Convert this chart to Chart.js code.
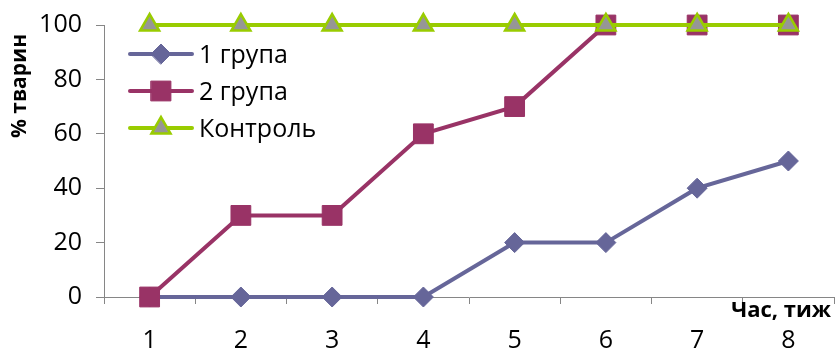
<!DOCTYPE html>
<html><head><meta charset="utf-8">
<script src="https://cdn.jsdelivr.net/npm/chart.js@4/dist/chart.umd.min.js"></script>
<style>html,body{margin:0;padding:0;background:#fff;} canvas{display:block;}</style>
</head><body>
<canvas id="c" width="835" height="354"></canvas>
<script>
const categories = ['1','2','3','4','5','6','7','8'];
const group1 = [0,0,0,0,20,20,40,50];
const group2 = [0,30,30,60,70,100,100,100];
const control = [100,100,100,100,100,100,100,100];
const seriesNames = ['1 група','2 група','Контроль'];
const yTicks = [0,20,40,60,80,100];
const xTitle = 'Час, тиж';
const yTitle = '% тварин';

const FONT = '"Open Sans"';
const AXIS = '#868686';

const legendPlugin = {
  id: 'inLegend',
  afterDatasetsDraw(chart) {
    const ctx = chart.ctx;
    const x0 = 130, x1 = 192, tx = 199;
    const ys = [54, 91, 128];
    chart.data.datasets.forEach((ds, i) => {
      const y = ys[i];
      ctx.save();
      ctx.strokeStyle = ds.borderColor;
      ctx.lineWidth = ds.borderWidth;
      ctx.lineCap = 'round';
      ctx.beginPath(); ctx.moveTo(x0, y); ctx.lineTo(x1, y); ctx.stroke();
      ctx.fillStyle = ds.pointBackgroundColor;
      ctx.strokeStyle = ds.pointBorderColor;
      ctx.lineWidth = ds.pointBorderWidth;
      Chart.helpers.drawPoint(ctx, {pointStyle: ds.pointStyle, radius: ds.pointRadius, borderWidth: ds.pointBorderWidth, rotation: 0}, (x0 + x1) / 2, y);
      ctx.fillStyle = '#000';
      ctx.font = '25px ' + FONT;
      ctx.textBaseline = 'middle';
      ctx.textAlign = 'left';
      ctx.fillText(ds.label, tx, y + 2);
      ctx.restore();
    });
    // axis titles
    ctx.save();
    ctx.fillStyle = '#000';
    ctx.font = 'bold 22px ' + FONT;
    ctx.textAlign = 'right';
    ctx.textBaseline = 'middle';
    ctx.fillText(xTitle, 831, 311);
    ctx.font = 'bold 21px ' + FONT;
    ctx.translate(20, 86);
    ctx.rotate(-Math.PI / 2);
    ctx.textAlign = 'center';
    ctx.fillText(yTitle, 0, 0);
    ctx.restore();
  }
};

new Chart(document.getElementById('c'), {
  type: 'line',
  data: {
    labels: categories,
    datasets: [
      {label: seriesNames[0], data: group1, borderColor: '#666699', backgroundColor: '#666699',
       pointBackgroundColor: '#666699', pointBorderColor: '#666699', pointBorderWidth: 1,
       borderWidth: 4, pointStyle: 'rectRot', pointRadius: 10, order: 3, clip: false},
      {label: seriesNames[1], data: group2, borderColor: '#993366', backgroundColor: '#993366',
       pointBackgroundColor: '#993366', pointBorderColor: '#993366', pointBorderWidth: 1,
       borderWidth: 4, pointStyle: 'rect', pointRadius: 14, order: 2, clip: false},
      {label: seriesNames[2], data: control, borderColor: '#99CC00', backgroundColor: '#969696',
       pointBackgroundColor: '#969696', pointBorderColor: '#99CC00', pointBorderWidth: 2.5,
       borderWidth: 4, pointStyle: 'triangle', pointRadius: 11, order: 1, clip: false}
    ]
  },
  options: {
    responsive: false,
    animation: false,
    layout: {autoPadding: false, padding: {top: 25, right: 1, bottom: 0, left: 0}},
    plugins: {legend: {display: false}, tooltip: {enabled: false}},
    elements: {line: {tension: 0}, point: {hoverRadius: 10}},
    scales: {
      x: {
        offset: true,
        grid: {offset: true, drawOnChartArea: false, drawTicks: true, tickLength: 7, color: AXIS},
        border: {color: AXIS, width: 1},
        ticks: {color: '#000', font: {family: 'Open Sans', size: 25}, padding: 22, maxRotation: 0},
        afterFit(s) { s.height = 57; s.paddingLeft = 0; s.paddingRight = 0; }
      },
      y: {
        min: 0, max: 100,
        afterBuildTicks(s) { s.ticks = yTicks.map(v => ({value: v})); },
        grid: {drawOnChartArea: false, drawTicks: true, tickLength: 8, color: AXIS},
        border: {color: AXIS, width: 1},
        ticks: {color: '#000', font: {family: 'Open Sans', size: 25}, padding: 14},
        afterFit(s) { s.width = 104; s.paddingTop = 0; s.paddingBottom = 0; }
      }
    }
  },
  plugins: [legendPlugin]
});
</script>
</body></html>
